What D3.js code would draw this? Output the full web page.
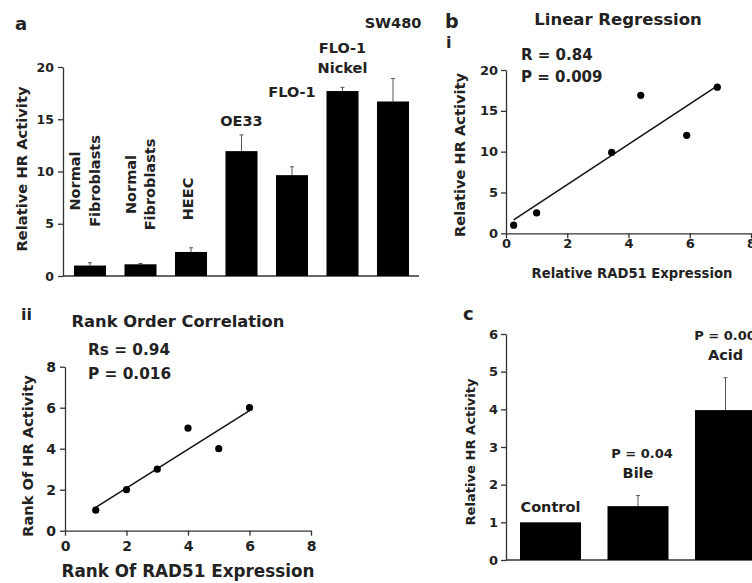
<!DOCTYPE html>
<html>
<head>
<meta charset="utf-8">
<script src="https://cdn.jsdelivr.net/npm/d3@7"></script>
<style>
  body { margin: 0; background: #fff; }
  svg text { font-family: "DejaVu Sans", Verdana, sans-serif; font-weight: bold; fill: #222; }
  .axis path, .axis line { stroke: #333; stroke-width: 1.3; }
</style>
</head>
<body>
<svg id="chart" width="752" height="583"></svg>
<script>
// ---- data ----
// a: HR activity per cell line
const cellLabels = [["Normal", "Fibroblasts"], ["Normal", "Fibroblasts"], ["HEEC"], ["OE33"], ["FLO-1"], ["FLO-1", "Nickel"], ["SW480"]];
const hrActivity = [1.0, 1.12, 2.3, 11.95, 9.65, 17.7, 16.7];
const hrError = [0.27, 0.08, 0.4, 1.55, 0.8, 0.35, 2.2];
const aTicks = [0, 5, 10, 15, 20];

// b i: linear regression
const rad51Expr = [0.25, 1.0, 3.45, 4.4, 5.9, 6.9];
const hrRelative = [1.0, 2.5, 9.9, 16.9, 12.0, 17.9];
const regStats = ["R = 0.84", "P = 0.009"];
const bxTicks = [0, 2, 4, 6, 8];
const byTicks = [0, 5, 10, 15, 20];

// b ii: rank order correlation
const rankRad51 = [1, 2, 3, 4, 5, 6];
const rankHR = [1, 2, 3, 5, 4, 6];
const rankStats = ["Rs = 0.94", "P = 0.016"];
const rankTicks = [0, 2, 4, 6, 8];

// c: treatments
const treatments = ["Control", "Bile", "Acid"];
const treatHR = [1.0, 1.43, 3.98];
const treatErr = [0, 0.28, 0.86];
const treatP = ["", "P = 0.04", "P = 0.004"];
const cTicks = [0, 1, 2, 3, 4, 5, 6];

const svg = d3.select("#chart");
const fmt = d3.format("d");

function text(g, x, y, str, size, anchor = "middle") {
  return g.append("text").attr("x", x).attr("y", y)
    .attr("text-anchor", anchor).style("font-size", size + "px").text(str);
}
function vtext(g, cx, cy, str, size) {
  return g.append("text")
    .attr("transform", `translate(${cx},${cy}) rotate(-90)`)
    .attr("text-anchor", "middle").attr("dy", "0.35em")
    .style("font-size", size + "px").text(str);
}
function fit(xs, ys) {
  const mx = d3.mean(xs), my = d3.mean(ys);
  const b = d3.sum(xs, (x, i) => (x - mx) * (ys[i] - my)) / d3.sum(xs, x => (x - mx) ** 2);
  const a = my - b * mx;
  const x0 = d3.min(xs), x1 = d3.max(xs);
  return [[x0, a + b * x0], [x1, a + b * x1]];
}
function yAxis(g, scale, x, ticks, size, pad) {
  g.append("g").attr("class", "axis").attr("transform", `translate(${x},0)`)
    .call(d3.axisLeft(scale).tickValues(ticks).tickFormat(fmt).tickSize(5).tickSizeOuter(0).tickPadding(pad))
    .call(a => a.selectAll("text").style("font-size", size + "px"));
}
function xAxis(g, scale, y, ticks, size, pad) {
  g.append("g").attr("class", "axis").attr("transform", `translate(0,${y})`)
    .call(d3.axisBottom(scale).tickValues(ticks).tickFormat(fmt).tickSize(5).tickSizeOuter(0).tickPadding(pad))
    .call(a => a.selectAll("text").style("font-size", size + "px"));
}
function errorBars(g, xs, ys, vals, errs) {
  const eb = g.selectAll(null).data(vals.map((v, i) => ({ v, e: errs[i], i })).filter(d => d.e > 0))
    .join("g").attr("stroke", "#555").attr("stroke-width", 1);
  eb.append("line")
    .attr("x1", d => xs(d.i) + xs.bandwidth() / 2).attr("x2", d => xs(d.i) + xs.bandwidth() / 2)
    .attr("y1", d => ys(d.v)).attr("y2", d => ys(d.v + d.e));
  eb.append("line")
    .attr("x1", d => xs(d.i) + xs.bandwidth() / 2 - 2).attr("x2", d => xs(d.i) + xs.bandwidth() / 2 + 2)
    .attr("y1", d => ys(d.v + d.e)).attr("y2", d => ys(d.v + d.e));
}

// ---------- panel a ----------
const gA = svg.append("g");
const ya = d3.scaleLinear().domain([0, 20]).range([276, 67]);
const xa = d3.scaleBand().domain(d3.range(hrActivity.length)).range([74, 409]).paddingInner(0.366);

text(gA, 15, 30, "a", 18, "start");
vtext(gA, 22, 169, "Relative HR Activity", 14.7);
yAxis(gA, ya, 63, aTicks, 12.5, 4);
gA.append("line").attr("stroke", "#333").attr("stroke-width", 1.3)
  .attr("x1", 63).attr("x2", xa.range()[1] + 10).attr("y1", ya(0)).attr("y2", ya(0));

errorBars(gA, xa, ya, hrActivity, hrError);
gA.selectAll("rect.bar").data(hrActivity).join("rect").attr("class", "bar")
  .attr("x", (d, i) => xa(i)).attr("y", d => ya(d))
  .attr("width", xa.bandwidth()).attr("height", d => ya(0) - ya(d)).attr("fill", "#000");

// label placement (vertical labels for small bars, horizontal above tall ones)
const vLayout = [{ dx: -5, cy: 181 }, { dx: 0, cy: 184.5 }, { dx: -3, cy: 199 }];
const hLift = [0, 0, 0, 9, 70, 14, 50];
cellLabels.forEach((lines, i) => {
  const cx = xa(i) + xa.bandwidth() / 2;
  if (i < vLayout.length) {
    const l = vLayout[i];
    lines.forEach((s, j) => vtext(gA, cx + l.dx + (j - (lines.length - 1) / 2) * 19.5, l.cy, s, 14.5));
  } else {
    const base = ya(hrActivity[i] + hrError[i]) - hLift[i];
    lines.forEach((s, j) => text(gA, cx, base - (lines.length - 1 - j) * 20, s, 14.5));
  }
});

// ---------- panel b i ----------
const gB = svg.append("g");
const xb = d3.scaleLinear().domain([0, 8]).range([506, 751]);
const yb = d3.scaleLinear().domain([0, 20]).range([233.3, 70]);
text(gB, 445, 28, "b", 19, "start");
text(gB, 446, 48, "i", 16, "start");
text(gB, 618, 25, "Linear Regression", 16.5);
regStats.forEach((s, j) => text(gB, 521, 60 + j * 22, s, 15, "start"));
vtext(gB, 460, 155, "Relative HR Activity", 14.6);
text(gB, 632, 278, "Relative RAD51 Expression", 13.2);
yAxis(gB, yb, 506, byTicks, 13, 3);
xAxis(gB, xb, yb(0), bxTicks, 13, 0);
const lb = fit(rad51Expr, hrRelative);
gB.append("line").attr("stroke", "#111").attr("stroke-width", 1.5)
  .attr("x1", xb(lb[0][0])).attr("y1", yb(lb[0][1])).attr("x2", xb(lb[1][0])).attr("y2", yb(lb[1][1]));
gB.selectAll("circle").data(rad51Expr).join("circle")
  .attr("cx", d => xb(d)).attr("cy", (d, i) => yb(hrRelative[i])).attr("r", 3.6).attr("fill", "#000");

// ---------- panel b ii ----------
const gR = svg.append("g");
const xr = d3.scaleLinear().domain([0, 8]).range([65, 311]);
const yr = d3.scaleLinear().domain([0, 8]).range([530.7, 366.7]);
text(gR, 21, 320, "ii", 16, "start");
text(gR, 178, 327, "Rank Order Correlation", 16.3);
rankStats.forEach((s, j) => text(gR, 88, 355 + j * 24, s, 15.3, "start"));
vtext(gR, 28, 456, "Rank Of HR Activity", 14.6);
text(gR, 188, 577, "Rank Of RAD51 Expression", 16.8);
yAxis(gR, yr, 65, rankTicks, 14, 4);
xAxis(gR, xr, yr(0), rankTicks, 14, 5);
const lr = fit(rankRad51, rankHR);
gR.append("line").attr("stroke", "#111").attr("stroke-width", 1.5)
  .attr("x1", xr(lr[0][0])).attr("y1", yr(lr[0][1])).attr("x2", xr(lr[1][0])).attr("y2", yr(lr[1][1]));
gR.selectAll("circle").data(rankRad51).join("circle")
  .attr("cx", d => xr(d)).attr("cy", (d, i) => yr(rankHR[i])).attr("r", 3.6).attr("fill", "#000");

// ---------- panel c ----------
const gC = svg.append("g");
const yc = d3.scaleLinear().domain([0, 6]).range([560, 334]);
const xc = d3.scaleBand().domain(d3.range(treatments.length)).range([520, 756]).paddingInner(0.303);
text(gC, 463, 320, "c", 18, "start");
vtext(gC, 470, 452, "Relative HR Activity", 13.1);
yAxis(gC, yc, 506, cTicks, 13, 3);
gC.append("line").attr("stroke", "#333").attr("stroke-width", 1.3)
  .attr("x1", 506).attr("x2", 760).attr("y1", yc(0)).attr("y2", yc(0));
errorBars(gC, xc, yc, treatHR, treatErr);
gC.selectAll("rect.bar").data(treatHR).join("rect").attr("class", "bar")
  .attr("x", (d, i) => xc(i)).attr("y", d => yc(d))
  .attr("width", xc.bandwidth()).attr("height", d => yc(0) - yc(d)).attr("fill", "#000");
treatments.forEach((s, i) => {
  const cx = xc(i) + xc.bandwidth() / 2;
  const base = yc(treatHR[i] + treatErr[i]) - (treatErr[i] > 0 ? 17.5 : 10);
  text(gC, cx, base, s, 14.5);
  if (treatP[i]) text(gC, cx + 4, base - 20, treatP[i], 13);
});
</script>
</body>
</html>
